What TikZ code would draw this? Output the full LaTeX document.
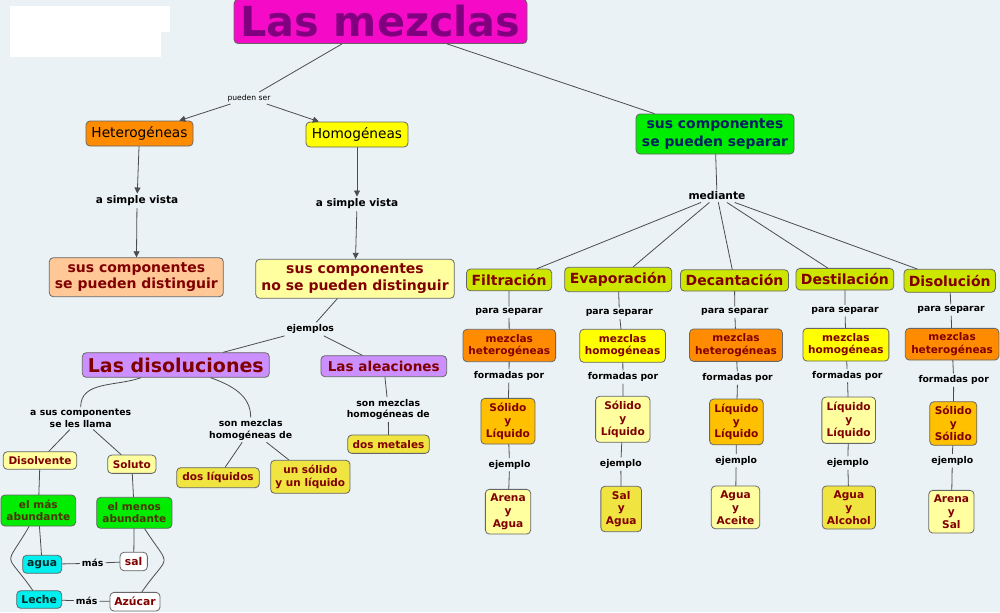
\documentclass[tikz,border=0pt]{standalone}
\usepackage{fontspec}
\setmainfont{DejaVu Sans}
\usetikzlibrary{arrows.meta}
\newcommand{\fsz}[2]{\fontsize{#1}{#2}\selectfont}

\definecolor{fondo}{RGB}{234,242,245}
\definecolor{cmez}{RGB}{245,10,200}
\definecolor{tmez}{RGB}{128,0,128}
\definecolor{corange}{RGB}{255,140,0}
\definecolor{cyellow}{RGB}{255,255,0}
\definecolor{cpeach}{RGB}{255,200,150}
\definecolor{clight}{RGB}{255,255,160}
\definecolor{cpurple}{RGB}{204,143,255}
\definecolor{cmustard}{RGB}{240,228,64}
\definecolor{cgreen}{RGB}{0,236,0}
\definecolor{tolive}{RGB}{80,50,0}
\definecolor{ccyan}{RGB}{0,240,240}
\definecolor{tteal}{RGB}{0,40,40}
\definecolor{tnavy}{RGB}{0,32,96}
\definecolor{clime}{RGB}{204,230,0}
\definecolor{camber}{RGB}{255,192,0}
\definecolor{rojo}{RGB}{128,0,0}

\begin{document}
\begin{tikzpicture}[x=0.5pt, y=-0.5pt, line join=round, line cap=round, >={Triangle[length=3pt,width=3pt]},
	box/.style={draw=black!60, line width=0.4pt, rounded corners=2pt, align=center, inner sep=1pt, text=rojo, font=\bfseries\fsz{5.25}{6.2}},
	wh/.style 2 args={minimum width=#1*0.5pt, minimum height=#2*0.5pt},
	meth/.style={box, fill=clime, font=\bfseries\fsz{7}{8}},
	comp/.style={box, font=\bfseries\fsz{5.3}{6.4}},
	lbl/.style={font=\bfseries\fsz{4.65}{5.7}, align=center, inner sep=1pt},
	lnk/.style={draw=black!70, line width=0.4pt}]
	
	% [Fondo]
	\fill[fondo] (0,0) rectangle (1000,612);
	\useasboundingbox (0,0) rectangle (1000,612);
	\fill[white] (10,6) rectangle (170,32);
	\fill[white] (10,6) rectangle (161,57);
	
	% [Raiz]
	\node[box, wh={293}{44}, fill=cmez, text=tmez, font=\bfseries\fsz{20.7}{24}] (mez) at (380.5,21.5) {Las mezclas};
	\node[font=\fsz{3.8}{4.5}, inner sep=1pt] (pser) at (249,98) {pueden ser};
	\node[box, wh={107}{25}, fill=corange, text=black, font=\fsz{6.85}{8}] (het) at (139.5,133.5) {Heterogéneas};
	\node[box, wh={102}{25}, fill=cyellow, text=black, font=\fsz{6.85}{8}] (hom) at (357,134.5) {Homogéneas};
	\node[lbl, font=\bfseries\fsz{5.25}{6}] (vis1) at (137,201) {a simple vista};
	\node[lbl, font=\bfseries\fsz{5.25}{6}] (vis2) at (357,204) {a simple vista};
	\node[box, wh={174}{39}, fill=cpeach, font=\bfseries\fsz{7}{8.3}] (dist) at (136.3,277.2) {sus componentes\\se pueden distinguir};
	\node[box, wh={198.6}{39}, fill=clight, font=\bfseries\fsz{7}{8.3}] (nodist) at (355,278.8) {sus componentes\\no se pueden distinguir};
	
	\draw[lnk] (mez) -- (pser);
	\draw[lnk,->] (pser) -- (het);
	\draw[lnk,->] (pser) -- (hom);
	\draw[lnk,->] (het) -- (vis1);
	\draw[lnk,->] (vis1) -- (dist);
	\draw[lnk,->] (hom) -- (vis2);
	\draw[lnk,->] (vis2) -- (nodist);
	
	% [Disoluciones y aleaciones]
	\node[lbl] (ejs) at (310.3,329) {ejemplos};
	\node[box, wh={187}{24.6}, fill=cpurple, font=\bfseries\fsz{9.5}{11}] (disol) at (175.8,365) {Las disoluciones};
	\node[box, wh={125.7}{21}, fill=cpurple, font=\bfseries\fsz{6.8}{8}] (aleac) at (383.8,366.2) {Las aleaciones};
	\node[lbl] (llama) at (80.7,418.3) {a sus componentes\\se les llama};
	\node[lbl] (homde1) at (250.7,429.8) {son mezclas\\homogéneas de};
	\node[lbl] (homde2) at (388.3,409.5) {son mezclas\\homogéneas de};
	\node[box, wh={81.6}{18.3}, fill=cmustard] (metal) at (388.5,444.2) {dos metales};
	\node[box, wh={82.6}{20}, fill=cmustard] (dosliq) at (218,477.7) {dos líquidos};
	\node[box, wh={79.3}{33}, fill=cmustard] (solliq) at (310.3,476.8) {un sólido\\y un líquido};
	\node[box, wh={73.4}{17.6}, fill=clight] (dvte) at (40,460.5) {Disolvente};
	\node[box, wh={48.3}{18.3}, fill=clight] (sto) at (131.8,464.2) {Soluto};
	\node[box, wh={74.7}{31}, fill=cgreen, text=tolive] (masab) at (38.3,510.5) {el más\\abundante};
	\node[box, wh={75.3}{31}, fill=cgreen, text=tolive] (menosab) at (134.3,512.8) {el menos\\abundante};
	\node[box, wh={39}{18}, fill=ccyan, text=tteal, font=\bfseries\fsz{5.4}{6.2}] (agua) at (42.2,564.3) {agua};
	\node[box, wh={27.3}{18.4}, fill=white, font=\bfseries\fsz{5.4}{6.2}] (sal) at (133.7,561.5) {sal};
	\node[lbl] (mas1) at (92.7,563.3) {más};
	\node[box, wh={45}{17.6}, fill=ccyan, text=tteal, font=\bfseries\fsz{5.4}{6.2}] (leche) at (39.2,599.5) {Leche};
	\node[box, wh={50}{18.7}, fill=white, font=\bfseries\fsz{5.4}{6.2}] (azu) at (135,601.7) {Azúcar};
	\node[lbl] (mas2) at (86.7,601) {más};
	
	\draw[lnk] (nodist) -- (ejs) -- (disol);
	\draw[lnk] (ejs) -- (aleac);
	\draw[lnk] (disol) to[out=200,in=90] (llama);
	\draw[lnk] (disol) to[out=-20,in=90] (homde1);
	\draw[lnk] (aleac) -- (homde2) -- (metal);
	\draw[lnk] (homde1) -- (dosliq);
	\draw[lnk] (homde1) -- (solliq);
	\draw[lnk] (llama) -- (dvte) -- (masab) -- (agua) -- (mas1) -- (sal) -- (menosab) -- (sto) -- (llama);
	\draw[lnk] (leche) -- (mas2) -- (azu);
	\draw[lnk] (masab) to[out=240,in=125,looseness=2] (leche);
	\draw[lnk] (menosab) to[out=-57,in=55,looseness=2] (azu);
	
	% [Separacion]
	\node[box, wh={158}{40}, fill=cgreen, text=tnavy, font=\bfseries\fsz{6.95}{8.6}] (sep) at (715,134) {sus componentes\\se pueden separar};
	\node[lbl, font=\bfseries\fsz{5.35}{6}] (med) at (717,196) {mediante};
	\draw[lnk] (mez) -- (sep) -- (med);
	
	% [Filtracion]
	\node[meth, wh={85.2}{21.7}] (filt) at (509.1,279.9) {Filtración};
	\node[lbl] (ps1) at (509,312.3) {para separar};
	\node[box, wh={92.6}{32.4}, fill=corange] (mx1) at (509.3,345.5) {mezclas\\heterogéneas};
	\node[lbl] (fp1) at (509,376) {formadas por};
	\node[comp, wh={54}{45.7}, fill=camber] (cp1) at (507.9,421.2) {Sólido\\y\\Líquido};
	\node[lbl] (ej1) at (509.6,464.7) {ejemplo};
	\node[comp, wh={45.3}{44.7}, fill=clight] (ex1) at (508,511.7) {Arena\\y\\Agua};
	
	% [Evaporacion]
	\node[meth, wh={107}{24.4}] (evap) at (618.2,279.5) {Evaporación};
	\node[lbl] (ps2) at (619.4,313.3) {para separar};
	\node[box, wh={85.6}{33}, fill=cyellow] (mx2) at (622.6,345.8) {mezclas\\homogéneas};
	\node[lbl] (fp2) at (623,377) {formadas por};
	\node[comp, wh={54.4}{46}, fill=clight] (cp2) at (622.8,419.3) {Sólido\\y\\Líquido};
	\node[lbl] (ej2) at (620.8,464) {ejemplo};
	\node[comp, wh={40.7}{45.4}, fill=cmustard] (ex2) at (621.2,509) {Sal\\y\\Agua};
	
	% [Decantacion]
	\node[meth, wh={108.1}{21.3}] (dec) at (734.5,280.4) {Decantación};
	\node[lbl] (ps3) at (734.8,312.3) {para separar};
	\node[box, wh={92.9}{32.3}, fill=corange] (mx3) at (736,345.2) {mezclas\\heterogéneas};
	\node[lbl] (fp3) at (737.6,378) {formadas por};
	\node[comp, wh={53.6}{45.7}, fill=camber] (cp3) at (736.4,421.9) {Líquido\\y\\Líquido};
	\node[lbl] (ej3) at (736.2,460.7) {ejemplo};
	\node[comp, wh={48.4}{42.7}, fill=clight] (ex3) at (735.5,507.4) {Agua\\y\\Aceite};
	
	% [Destilacion]
	\node[meth, wh={97.7}{21.7}] (dest) at (844.9,279.2) {Destilación};
	\node[lbl] (ps4) at (845,310.7) {para separar};
	\node[box, wh={85.9}{32.7}, fill=cyellow] (mx4) at (845.9,344.7) {mezclas\\homogéneas};
	\node[lbl] (fp4) at (847.4,375.7) {formadas por};
	\node[comp, wh={53.7}{46.3}, fill=clight] (cp4) at (848.7,420.2) {Líquido\\y\\Líquido};
	\node[lbl] (ej4) at (847.8,463) {ejemplo};
	\node[comp, wh={53.3}{43}, fill=cmustard] (ex4) at (848.9,507.5) {Agua\\y\\Alcohol};
	
	% [Disolucion]
	\node[meth, wh={91.4}{23}] (dsl) at (949.7,280.8) {Disolución};
	\node[lbl] (ps5) at (951,310) {para separar};
	\node[box, wh={93.6}{31.7}, fill=corange] (mx5) at (952.1,344.2) {mezclas\\heterogéneas};
	\node[lbl] (fp5) at (953.7,380) {formadas por};
	\node[comp, wh={47}{43.6}, fill=camber] (cp5) at (953.3,423.5) {Sólido\\y\\Sólido};
	\node[lbl] (ej5) at (952.3,460.7) {ejemplo};
	\node[comp, wh={45.2}{42.7}, fill=clight] (ex5) at (951.4,511.7) {Arena\\y\\Sal};
	
	\draw[lnk] (med) -- (filt) -- (ps1) -- (mx1) -- (fp1) -- (cp1) -- (ej1) -- (ex1);
	\draw[lnk] (med) -- (evap) -- (ps2) -- (mx2) -- (fp2) -- (cp2) -- (ej2) -- (ex2);
	\draw[lnk] (med) -- (dec) -- (ps3) -- (mx3) -- (fp3) -- (cp3) -- (ej3) -- (ex3);
	\draw[lnk] (med) -- (dest) -- (ps4) -- (mx4) -- (fp4) -- (cp4) -- (ej4) -- (ex4);
	\draw[lnk] (med) -- (dsl) -- (ps5) -- (mx5) -- (fp5) -- (cp5) -- (ej5) -- (ex5);
\end{tikzpicture}
\end{document}
